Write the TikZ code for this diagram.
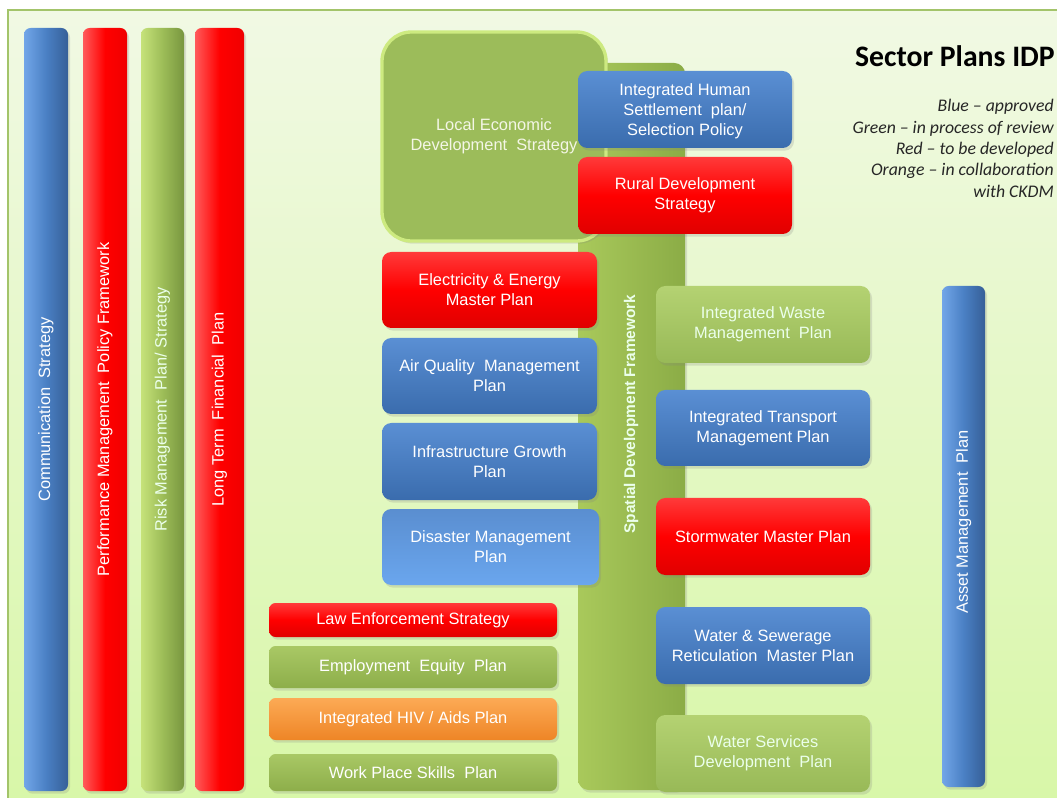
\documentclass[tikz,border=0pt]{standalone}
\usepackage{fontspec}
\setmainfont{Liberation Sans}
\newfontfamily\calibri{Carlito}
\usetikzlibrary{shadows}
\definecolor{panelTop}{HTML}{F1F9E4}
\definecolor{panelBot}{HTML}{D8F7A8}
\definecolor{panelLine}{HTML}{A3C46A}
\definecolor{blueTop}{HTML}{5A8FD4}
\definecolor{blueBot}{HTML}{3A6CAD}
\definecolor{blueL}{HTML}{72A6E8}
\definecolor{blueM}{HTML}{4A80C4}
\definecolor{blueR}{HTML}{365F98}
\definecolor{dblueTop}{HTML}{5A8ED0}
\definecolor{dblueBot}{HTML}{6AA6EE}
\definecolor{redTop}{HTML}{FF3A3A}
\definecolor{redMid}{HTML}{FF0000}
\definecolor{redBot}{HTML}{E00000}
\definecolor{redL}{HTML}{FF5A5A}
\definecolor{redR}{HTML}{F00000}
\definecolor{grnTop}{HTML}{A9C865}
\definecolor{grnBot}{HTML}{8DAE4A}
\definecolor{grnL}{HTML}{C6E27A}
\definecolor{grnM}{HTML}{9DBD58}
\definecolor{grnR}{HTML}{78963F}
\definecolor{lgrnTop}{HTML}{B4D272}
\definecolor{lgrnBot}{HTML}{98B957}
\definecolor{orgTop}{HTML}{FCAA55}
\definecolor{orgBot}{HTML}{EE8526}
\definecolor{ledFill}{HTML}{9CBC5A}
\definecolor{ledEdge}{HTML}{CDEA80}
\definecolor{sdfL}{HTML}{A9C95B}
\definecolor{sdfR}{HTML}{8BAC46}
\definecolor{ledText}{HTML}{F4F6E6}
\tikzset{
  shade/.style={drop shadow={shadow xshift=1.5pt, shadow yshift=-2pt, opacity=0.22}},
  boxbase/.style={inner sep=0pt, outer sep=0pt, rounded corners=7pt, text=white,
    align=center, font=\fontsize{12.3}{15}\selectfont, shade},
  bluebox/.style={boxbase, top color=blueTop, bottom color=blueBot},
  lbluebox/.style={boxbase, top color=dblueTop, bottom color=dblueBot},
  redbox/.style={boxbase, top color=redTop, bottom color=redBot, middle color=redMid},
  grnbox/.style={boxbase, top color=grnTop, bottom color=grnBot},
  lgrnbox/.style={boxbase, top color=lgrnTop, bottom color=lgrnBot, text=white!92!green},
  orgbox/.style={boxbase, top color=orgTop, bottom color=orgBot},
  barbase/.style={inner sep=0pt, outer sep=0pt, rounded corners=5pt, shade},
  bluebar/.style={barbase, left color=blueL, right color=blueR, middle color=blueM},
  redbar/.style={barbase, left color=redL, right color=redR, middle color=redMid},
  grnbar/.style={barbase, left color=grnL, right color=grnR, middle color=grnM},
  vlabel/.style={rotate=90, text=white, inner sep=0pt, font=\fontsize{12.3}{15}\selectfont},
}
% \plan{style}{name}{x1}{y1}{x2}{y2}{text}  (pixel coordinates of the box corners)
\newcommand\plan[7]{\node[#1, minimum width={(#5-#3)*0.75pt}, minimum height={(#6-#4)*0.75pt}]
  (#2) at ({(#3+#5)/2},{(#4+#6)/2}) {#7};}
\begin{document}
\begin{tikzpicture}[x=0.75pt,y=-0.75pt]
\useasboundingbox (0,0) rectangle (1057,798);
\fill[white] (0,0) rectangle (1057,798);
\path[top color=panelTop, bottom color=panelBot, draw=panelLine, line width=0.8pt]
  (8,10) rectangle (1062,803);

% left vertical bars
\plan{bluebar}{comm}{24}{28}{68}{791}{}
\node[vlabel] (commL) at (comm.center) {Communication\ \ Strategy};
\plan{redbar}{perf}{83}{28}{127}{791}{}
\node[vlabel] (perfL) at (perf.center) {Performance Management\ \ Policy Framework};
\plan{grnbar}{risk}{141}{28}{184}{791}{}
\node[vlabel, text=white!92!green] (riskL) at (risk.center) {Risk Management\ \ Plan/ Strategy};
\plan{redbar}{ltfp}{195}{28}{244}{791}{}
\node[vlabel] (ltfpL) at (ltfp.center) {Long Term\ \ Financial\ \ Plan};

% right asset bar
\plan{bluebar}{asset}{942}{286}{985}{787}{}
\node[vlabel] (assetL) at (963.5,522) {Asset Management\ \ Plan};

% spatial development framework column
\plan{barbase, rounded corners=8pt, left color=sdfL, right color=sdfR}{sdf}{578}{63}{685}{790}{}
\node[vlabel, font=\fontsize{11.6}{14}\selectfont\bfseries, text=white!92!green] (sdfL) at (631,414) {Spatial Development Framework};

% local economic development
\plan{boxbase, rounded corners=22pt, fill=ledFill, draw=ledEdge, line width=2.5pt, text=ledText}{led}{382}{32}{606}{241}{Local Economic\\Development\ \ Strategy}

% boxes over the framework
\plan{bluebox, text depth=0pt}{ihs}{578}{71}{792}{148}{Integrated Human\\Settlement\ \ plan/\\Selection Policy}
\plan{redbox}{rural}{578}{157}{792}{234}{Rural Development\\Strategy}
\plan{redbox}{elec}{382}{252}{597}{328}{Electricity \& Energy\\Master Plan}
\plan{bluebox}{air}{382}{338}{597}{414}{Air Quality\ \ Management\\Plan}
\plan{bluebox}{infra}{382}{423}{597}{500}{Infrastructure Growth\\Plan}
\plan{lbluebox}{dis}{382}{509}{599}{585}{Disaster Management\\Plan}

% bottom-left strips
\plan{redbox, rounded corners=5pt}{law}{269}{603}{557}{637}{Law Enforcement Strategy}
\plan{grnbox, rounded corners=5pt}{emp}{269}{646}{557}{688}{Employment\ \ Equity\ \ Plan}
\plan{orgbox, rounded corners=5pt}{hiv}{269}{698}{557}{740}{Integrated HIV / Aids Plan}
\plan{grnbox, rounded corners=5pt}{wps}{269}{754}{557}{791}{Work Place Skills\ \ Plan}

% right column
\plan{lgrnbox}{waste}{656}{286}{870}{363}{Integrated Waste\\Management\ \ Plan}
\plan{bluebox}{trans}{656}{390}{870}{466}{Integrated Transport\\Management Plan}
\plan{redbox}{storm}{656}{498}{870}{575}{Stormwater Master Plan}
\plan{bluebox}{water}{656}{607}{870}{684}{Water \& Sewerage\\Reticulation\ \ Master Plan}
\plan{lgrnbox}{wsdp}{656}{715}{870}{792}{Water Services\\Development\ \ Plan}

% title and legend
\node[anchor=east, inner sep=0pt, font=\calibri\bfseries\fontsize{22.3}{26}\selectfont] (title) at (1055,56) {Sector Plans IDP};
\node[anchor=north east, inner sep=0pt, align=right, text=black!85,
  font=\calibri\itshape\fontsize{13.3}{16.1}\selectfont] (legend) at (1054,99)
  {Blue – approved\\Green – in process of review\\Red – to be developed\\Orange – in collaboration\\with CKDM};
\end{tikzpicture}
\end{document}
